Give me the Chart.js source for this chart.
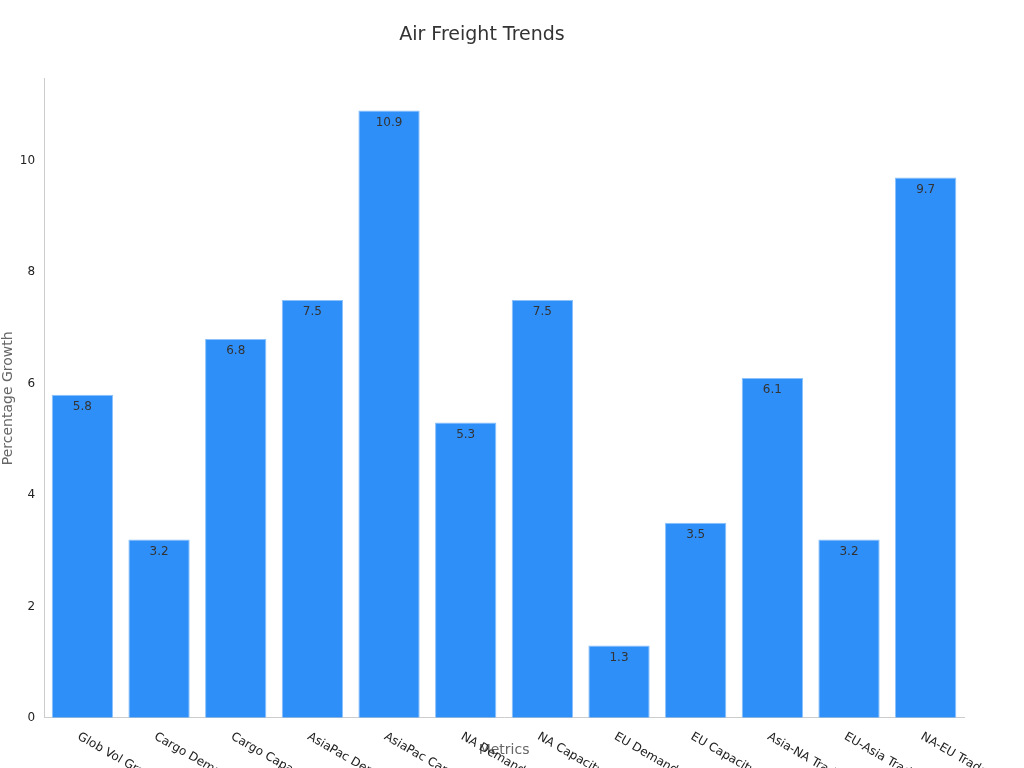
<!DOCTYPE html>
<html><head><meta charset="utf-8">
<script src="https://cdn.jsdelivr.net/npm/chart.js@4"></script>
<style>html,body{margin:0;background:#fff}#w{width:1024px;height:768px}</style>
</head><body><div id="w"><canvas id="c"></canvas></div>
<script>
const categories = ["Glob Vol Growth","Cargo Demand","Cargo Capacity","AsiaPac Demand","AsiaPac Capacity","NA Demand","NA Capacity","EU Demand","EU Capacity","Asia-NA Trade","EU-Asia Trade","NA-EU Trade"];
const values = [5.8,3.2,6.8,7.5,10.9,5.3,7.5,1.3,3.5,6.1,3.2,9.7];
const yTicks = [0,2,4,6,8,10];

const labelPlugin = {
  id:'lbl',
  afterDatasetsDraw(chart){
    const ctx = chart.ctx, meta = chart.getDatasetMeta(0), xs = chart.scales.x;
    ctx.save();
    ctx.font = '12px "DejaVu Sans"';
    ctx.fillStyle = '#333';
    ctx.textAlign='center'; ctx.textBaseline='top';
    meta.data.forEach((b,i)=>{ ctx.fillText(values[i].toFixed(1), b.x, b.y+6); });
    ctx.textAlign='left'; ctx.textBaseline='middle';
    ctx.fillStyle='#222';
    categories.forEach((c,i)=>{
      const x = xs.getPixelForValue(i), y = xs.top+18;
      ctx.save(); ctx.translate(x-4,y); ctx.rotate(Math.PI/6); ctx.fillText(c,0,0); ctx.restore();
    });
    ctx.restore();
  }
};

new Chart(document.getElementById('c'),{
  type:'bar',
  data:{labels:categories,datasets:[{data:values,backgroundColor:'#2f8ff8',borderColor:'#8cc2fb',borderWidth:1,barPercentage:0.8,categoryPercentage:1}]},
  options:{
    responsive:true,maintainAspectRatio:false,animation:false,
    layout:{padding:{left:0,right:60,top:14,bottom:5}},
    plugins:{legend:{display:false},tooltip:{enabled:false},
      title:{display:true,text:'Air Freight Trends',color:'#333',font:{family:'DejaVu Sans',size:19,weight:'normal'},padding:{top:10,bottom:32}}},
    scales:{
      x:{grid:{display:false,drawTicks:true,tickLength:6,tickColor:'#ccc'},border:{color:'#ccc'},
        ticks:{color:'rgba(0,0,0,0)',font:{family:'DejaVu Sans',size:12},padding:2,maxRotation:0,minRotation:0},
        title:{display:true,text:'Metrics',color:'#666',font:{family:'DejaVu Sans',size:14},padding:{top:0}}},
      y:{min:0,max:11.47,afterBuildTicks(s){s.ticks=yTicks.map(v=>({value:v}));},
        grid:{display:false,drawTicks:true,tickLength:6,tickColor:'#ccc'},border:{color:'#ccc'},
        ticks:{color:'#222',font:{family:'DejaVu Sans',size:12}},
        title:{display:true,text:'Percentage Growth',color:'#666',font:{family:'DejaVu Sans',size:14},padding:0}}
    }
  },
  plugins:[labelPlugin]
});
</script></body></html>
